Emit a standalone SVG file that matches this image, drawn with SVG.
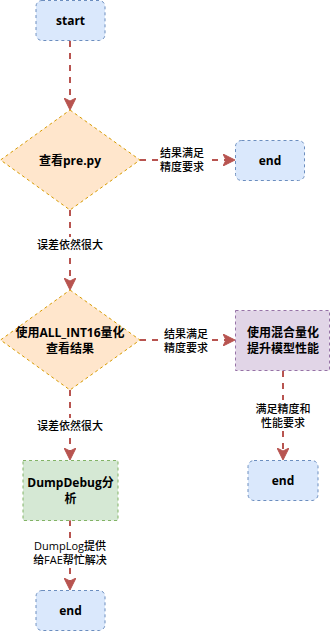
<svg xmlns="http://www.w3.org/2000/svg" width="331" height="631" viewBox="0 0 331 631">
<defs>
<style>
.n{stroke-width:1;stroke-dasharray:3 3}
.blue{fill:#dae8fc;stroke:#6c8ebf}
.orange{fill:#ffe6cc;stroke:#d79b00}
.purple{fill:#e1d5e7;stroke:#9673a6}
.green{fill:#d5e8d4;stroke:#82b366}
.t{font-family:"Open Sans","Noto Sans CJK SC",sans-serif;font-size:12px;font-weight:bold;fill:#000;text-anchor:middle;dominant-baseline:central}
.l{font-family:"Open Sans","Noto Sans CJK SC",sans-serif;font-size:11px;font-weight:500;fill:#000;text-anchor:middle;dominant-baseline:central}
.e{fill:none;stroke:#b85450;stroke-width:2;stroke-dasharray:6 6}
.bg{fill:#fff}
</style>
<marker id="ah" viewBox="0 0 12 12" refX="11" refY="6" markerWidth="12" markerHeight="12" markerUnits="userSpaceOnUse" orient="auto">
<path d="M0,0 L12,6 L0,12 L3,6 Z" fill="#b85450" stroke="#b85450" stroke-width="1"/>
</marker>
</defs>
<rect width="331" height="631" fill="#fff"/>
<g id="connectors">
<path class="e" d="M70,41 V109" marker-end="url(#ah)"/>
<path class="e" d="M140,160 H234" marker-end="url(#ah)"/>
<rect class="bg" x="158" y="145" width="48" height="30"/>
<text class="l" x="182" y="152.5">结果满足</text>
<text class="l" x="182" y="166.5">精度要求</text>
<path class="e" d="M70,210 V289" marker-end="url(#ah)"/>
<rect class="bg" x="36" y="237" width="68" height="15"/>
<text class="l" x="70" y="244">误差依然很大</text>
<path class="e" d="M140,340 H234" marker-end="url(#ah)"/>
<rect class="bg" x="162" y="326" width="48" height="30"/>
<text class="l" x="186" y="333.5">结果满足</text>
<text class="l" x="186" y="347.5">精度要求</text>
<path class="e" d="M283,371 V459" marker-end="url(#ah)"/>
<rect class="bg" x="253" y="400" width="60" height="30"/>
<text class="l" x="283" y="408">满足精度和</text>
<text class="l" x="283" y="422">性能要求</text>
<path class="e" d="M70,390 V459" marker-end="url(#ah)"/>
<rect class="bg" x="36" y="418" width="68" height="15"/>
<text class="l" x="70" y="425">误差依然很大</text>
<path class="e" d="M70,520 V589" marker-end="url(#ah)"/>
<rect class="bg" x="30" y="538" width="80" height="30"/>
<text class="l" x="70" y="545.5">DumpLog提供</text>
<text class="l" x="70" y="559.5">给FAE帮忙解决</text>
</g>
<g id="start">
<rect class="n blue" x="36" y="0.5" width="69" height="40" rx="6"/>
<text class="t" x="70.5" y="20.5">start</text>
</g>
<g id="check-pre">
<path class="n orange" d="M70,110 L140,160 L70,210 L0.5,160 Z"/>
<text class="t" x="70" y="160">查看pre.py</text>
</g>
<g id="end1">
<rect class="n blue" x="235.5" y="140.5" width="69" height="40" rx="6"/>
<text class="t" x="270" y="160.5">end</text>
</g>
<g id="check-int16">
<path class="n orange" d="M70,290 L140,340 L70,390 L0.5,340 Z"/>
<text class="t" x="70" y="332">使用ALL_INT16量化</text>
<text class="t" x="70" y="348">查看结果</text>
</g>
<g id="mixed">
<rect class="n purple" x="235.5" y="310.5" width="94" height="60"/>
<text class="t" x="283" y="332">使用混合量化</text>
<text class="t" x="283" y="348">提升模型性能</text>
</g>
<g id="end2">
<rect class="n blue" x="248" y="460.5" width="70" height="40" rx="6"/>
<text class="t" x="283" y="480.5">end</text>
</g>
<g id="dumpdebug">
<rect class="n green" x="23" y="460.5" width="95" height="60"/>
<text class="t" x="70.5" y="482">DumpDebug分</text>
<text class="t" x="70.5" y="498">析</text>
</g>
<g id="end3">
<rect class="n blue" x="36" y="590.5" width="69" height="40" rx="6"/>
<text class="t" x="70.5" y="610.5">end</text>
</g>
</svg>
